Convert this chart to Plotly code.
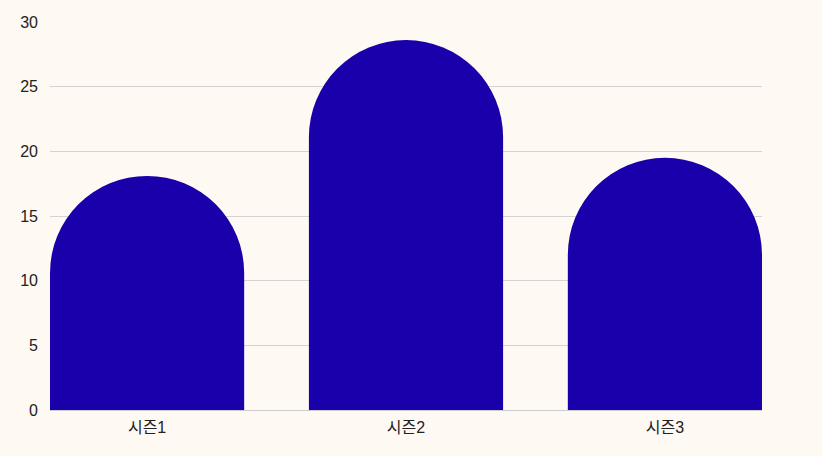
import plotly.graph_objects as go

categories = ["시즌1", "시즌2", "시즌3"]
values = [18.1, 28.6, 19.5]
y_ticks = [0, 5, 10, 15, 20, 25, 30]

fig = go.Figure(go.Bar(
    x=categories, y=values,
    marker=dict(color="#1A00AA", cornerradius="50%", line=dict(width=0)),
    hoverinfo="x+y",
))
fig.update_layout(
    width=822, height=456,
    margin=dict(l=50, r=60, t=22, b=46),
    paper_bgcolor="#FFF9F3", plot_bgcolor="#FFF9F3",
    bargap=0.25,
    font=dict(family="Liberation Sans, Noto Sans CJK KR, sans-serif", size=16, color="#222"),
    showlegend=False,
    xaxis=dict(range=[-0.375, 2.375], showgrid=False, showline=True, linecolor="#CCCCCC",
               linewidth=1, ticks="", tickfont=dict(size=16), ticklabelstandoff=3),
    yaxis=dict(range=[0, 30], tickvals=y_ticks, showgrid=True, gridcolor="#D6D2CD",
               gridwidth=1, zeroline=False, ticks="", ticklabelstandoff=11),
)
fig.write_html("out.html", config={"displayModeBar": False},
               post_script="document.body.style.margin='0';document.body.style.background='#FFF9F3';")
